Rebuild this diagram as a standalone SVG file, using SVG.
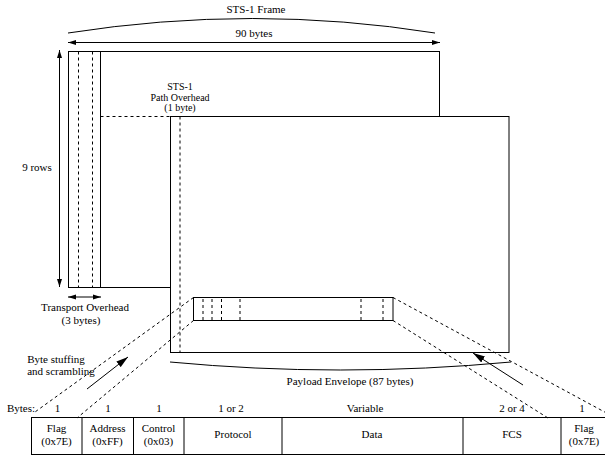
<svg xmlns="http://www.w3.org/2000/svg" width="605" height="455" viewBox="0 0 605 455" font-family="'Liberation Serif', 'Times New Roman', Times, serif">
<style>
text{font-family:"Liberation Serif","Times New Roman",Times,serif;font-size:11px;fill:#000;text-anchor:middle}
.s{fill:none;stroke:#000;stroke-width:1}
.w{fill:#fff;stroke:#000;stroke-width:1}
.d{fill:none;stroke:#000;stroke-width:1;stroke-dasharray:3,3}
.e{text-anchor:end}
.sm{font-size:10px}
</style>
<defs>
<marker id="a" markerUnits="userSpaceOnUse" markerWidth="8" markerHeight="6" refX="8" refY="3" orient="auto-start-reverse"><path d="M0,0.5 L8,3 L0,5.5 z" fill="#000"/></marker>
<marker id="b" markerUnits="userSpaceOnUse" markerWidth="13" markerHeight="8" refX="12" refY="4" orient="auto"><path d="M0,0.5 L12,4 L0,7.5 z" fill="#000"/></marker>
</defs>
<g id="frame">
<rect class="s" x="68.5" y="51.5" width="371" height="236"/>
<line class="d" x1="78.5" y1="51.5" x2="78.5" y2="287.5"/>
<line class="d" x1="92.5" y1="51.5" x2="92.5" y2="287.5"/>
<line class="s" x1="100.5" y1="51.5" x2="100.5" y2="287.5"/>
<line class="d" x1="100.5" y1="116.5" x2="170.5" y2="116.5"/>
<path class="s" d="M68,33 Q253,4 435,33"/>
<text x="256" y="13">STS-1 Frame</text>
<text x="254" y="37">90 bytes</text>
<text x="37" y="171">9 rows</text>
<text x="85" y="311">Transport Overhead</text>
<text x="81" y="324">(3 bytes)</text>
</g>
<g id="payload">
<rect class="w" x="170.5" y="116.5" width="338.5" height="236"/>
<line class="d" x1="180" y1="116.5" x2="180" y2="352.5"/>
<text class="sm" x="180" y="90">STS-1</text>
<text class="sm" x="180" y="100.5">Path Overhead</text>
<text class="sm" x="180" y="111">(1 byte)</text>
<path class="s" d="M170,362 Q340,378 511,362"/>
<text x="350" y="385">Payload Envelope (87 bytes)</text>
</g>
<g id="row">
<rect class="s" x="193.5" y="297.5" width="199.5" height="23"/>
<line class="d" x1="203" y1="299" x2="203" y2="320"/>
<line class="d" x1="212" y1="299" x2="212" y2="320"/>
<line class="d" x1="221.5" y1="299" x2="221.5" y2="320"/>
<line class="d" x1="240" y1="299" x2="240" y2="320"/>
<line class="d" x1="361" y1="299" x2="361" y2="320"/>
<line class="d" x1="383" y1="299" x2="383" y2="320"/>
</g>
<g id="ppp-frame">
<rect class="s" x="31.5" y="417.5" width="580" height="37"/>
<line class="s" x1="82" y1="417.5" x2="82" y2="454.5"/>
<line class="s" x1="133.5" y1="417.5" x2="133.5" y2="454.5"/>
<line class="s" x1="184" y1="417.5" x2="184" y2="454.5"/>
<line class="s" x1="282" y1="417.5" x2="282" y2="454.5"/>
<line class="s" x1="463" y1="417.5" x2="463" y2="454.5"/>
<line class="s" x1="561" y1="417.5" x2="561" y2="454.5"/>
<text class="e" x="35" y="412">Bytes:</text>
<text x="57.5" y="412">1</text>
<text x="108" y="412">1</text>
<text x="159" y="412">1</text>
<text x="231" y="412">1 or 2</text>
<text x="365" y="412">Variable</text>
<text x="512" y="412">2 or 4</text>
<text x="582" y="412">1</text>
<text x="56.5" y="432">Flag</text>
<text x="56.5" y="445">(0x7E)</text>
<text x="107.5" y="432">Address</text>
<text x="107.5" y="445">(0xFF)</text>
<text x="158.5" y="432">Control</text>
<text x="158.5" y="445">(0x03)</text>
<text x="233" y="438">Protocol</text>
<text x="372" y="438">Data</text>
<text x="512" y="438">FCS</text>
<text x="584" y="432">Flag</text>
<text x="584" y="445">(0x7E)</text>
<text x="56" y="363">Byte stuffing</text>
<text x="61" y="375">and scrambling</text>
</g>
<g id="connectors">
<line class="s" x1="68" y1="42.5" x2="440" y2="42.5" marker-start="url(#a)" marker-end="url(#a)"/>
<line class="s" x1="59.5" y1="50" x2="59.5" y2="287" marker-start="url(#a)" marker-end="url(#a)"/>
<line class="s" x1="68" y1="297" x2="101" y2="297" marker-start="url(#a)" marker-end="url(#a)"/>
<line class="d" x1="193.5" y1="297.5" x2="35" y2="412"/>
<line class="d" x1="193.5" y1="320.5" x2="77" y2="418"/>
<line class="d" x1="393" y1="297.5" x2="612" y2="416"/>
<line class="d" x1="393" y1="320.5" x2="548" y2="418"/>
<line class="s" x1="87" y1="389" x2="128" y2="357" marker-end="url(#b)"/>
<line class="s" x1="523" y1="385" x2="473" y2="353" marker-end="url(#b)"/>
</g>
</svg>
